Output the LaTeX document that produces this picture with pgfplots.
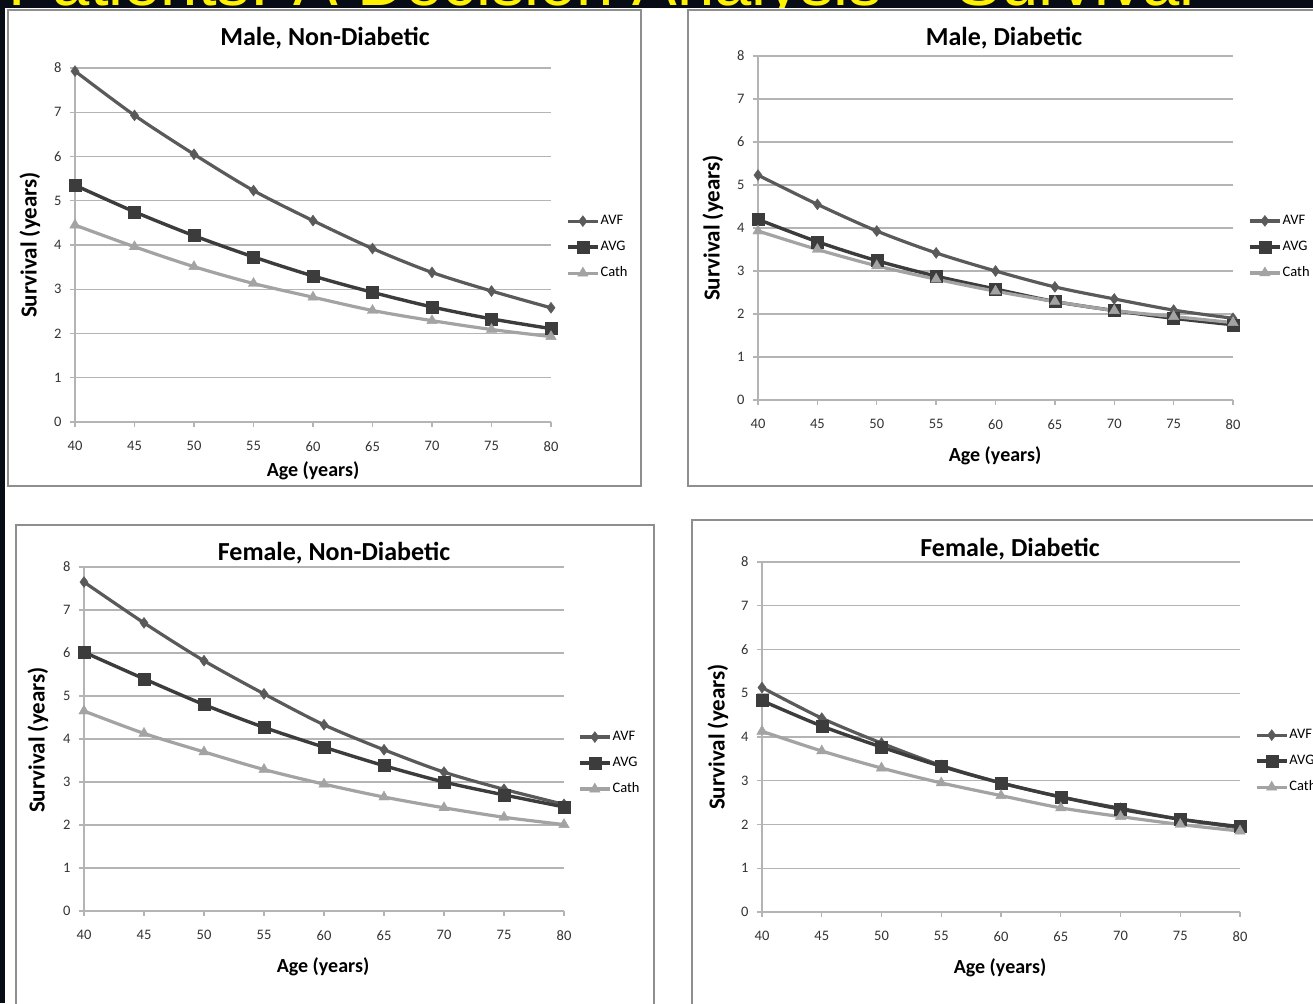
\documentclass[border=0pt]{standalone}
\usepackage{fontspec}
\setmainfont{Carlito}
\newfontfamily\slidefont{Liberation Sans}
\usepackage{pgfplots}
\usepackage{pgfplotstable}
\pgfplotsset{compat=1.18}

\definecolor{cAVF}{HTML}{5A5A5A}
\definecolor{cAVG}{HTML}{3C3C3C}
\definecolor{cCath}{HTML}{A3A3A3}
\definecolor{gridc}{HTML}{B4B4B4}
\definecolor{framec}{HTML}{8E8E8E}
\definecolor{ticklab}{HTML}{333333}
\definecolor{slidebg}{HTML}{080C16}

\pgfplotstableread{
age AVF AVG Cath
40 7.93 5.35 4.45
45 6.93 4.75 3.96
50 6.05 4.21 3.51
55 5.23 3.73 3.13
60 4.55 3.30 2.82
65 3.92 2.93 2.52
70 3.38 2.60 2.29
75 2.96 2.33 2.09
80 2.58 2.11 1.93
}\tA

\pgfplotstableread{
age AVF AVG Cath
40 5.23 4.20 3.93
45 4.55 3.68 3.50
50 3.93 3.24 3.12
55 3.42 2.88 2.81
60 3.00 2.58 2.53
65 2.63 2.29 2.29
70 2.35 2.08 2.08
75 2.09 1.90 1.94
80 1.90 1.75 1.80
}\tB

\pgfplotstableread{
age AVF AVG Cath
40 7.65 6.02 4.65
45 6.70 5.40 4.13
50 5.82 4.80 3.70
55 5.05 4.27 3.29
60 4.33 3.81 2.95
65 3.75 3.38 2.65
70 3.23 3.00 2.40
75 2.83 2.70 2.18
80 2.48 2.42 2.01
}\tC

\pgfplotstableread{
age AVF AVG Cath
40 5.13 4.83 4.13
45 4.43 4.25 3.68
50 3.86 3.77 3.29
55 3.35 3.33 2.95
60 2.95 2.95 2.66
65 2.63 2.63 2.38
70 2.37 2.35 2.18
75 2.12 2.12 2.00
80 1.92 1.95 1.85
}\tD

\pgfplotsset{
  panel/.style={
    scale only axis,
    xmin=40, xmax=80, ymin=0, ymax=8,
    xtick={40,45,...,80}, ytick={0,1,...,8},
    axis x line*=bottom, axis y line*=left,
    axis line style={-, gridc, line width=1.3pt},
    tick align=outside, major tick length=5pt,
    tick style={gridc, line width=1.3pt},
    ymajorgrids, major grid style={gridc, line width=1.3pt},
    tick label style={font=\fontsize{14.5}{16}\selectfont, text=ticklab},
    /pgf/number format/assume math mode=true,
    xticklabel style={yshift=-11pt},
    yticklabel style={xshift=-5pt},
    legend cell align=left,
    legend image code/.code={\draw[##1, mark repeat=2, mark phase=2] plot coordinates {(0pt,0pt) (15pt,0pt) (30pt,0pt)};},
    legend style={draw=none, fill=none, inner sep=0pt, font=\fontsize{14.5}{16}\selectfont, row sep=11pt, nodes={inner sep=1pt, text height=10pt, text depth=3pt}, anchor=west},
  },
  sAVF/.style={cAVF, line width=3.2pt, smooth, mark=diamond*, mark size=5.5pt, mark options={solid, fill=cAVF, line width=0.4pt}},
  sAVG/.style={cAVG, line width=3.4pt, smooth, mark=square*, mark size=6pt, mark options={solid, fill=cAVG, line width=0.4pt}},
  sCath/.style={cCath, line width=3.2pt, smooth, mark=triangle*, mark size=6pt, mark options={solid, fill=cCath, line width=0.4pt}},
}

\newcommand\ttl{\bfseries\fontsize{26}{30}\selectfont}
\newcommand\ylab{\bfseries\fontsize{23}{26}\selectfont}
\newcommand\xlab{\bfseries\fontsize{20}{24}\selectfont}

\begin{document}
\begin{tikzpicture}
\useasboundingbox (0,0) rectangle (1313pt,1003pt);
\clip (0,0) rectangle (1313pt,1003pt);
\fill[slidebg] (0,0) rectangle (1313pt,1003pt);
\node[anchor=base west, text=yellow, font=\slidefont\fontsize{67}{80}\selectfont, inner sep=0pt] at (8pt,997pt) {Patients: A Decision Analysis – Survival};
\fill[white] (5pt,0pt) rectangle (1320pt,995pt);

% panel frames
\draw[framec, line width=1.5pt] (8pt,993pt) rectangle (641pt,517pt);
\draw[framec, line width=1.5pt] (688pt,993pt) rectangle (1330pt,517pt);
\draw[framec, line width=1.5pt] (16pt,478pt) rectangle (654pt,-10pt);
\draw[framec, line width=1.5pt] (692pt,483pt) rectangle (1330pt,-10pt);

% Panel 1
\begin{axis}[panel, at={(75pt,581pt)}, anchor=south west, width=476pt, height=354pt,
  legend style={at={(1.0315,0.494)}}]
\addplot[sAVF] table[x=age,y=AVF]{\tA}; \addlegendentry{AVF}
\addplot[sAVG] table[x=age,y=AVG]{\tA}; \addlegendentry{AVG}
\addplot[sCath] table[x=age,y=Cath]{\tA}; \addlegendentry{Cath}
\end{axis}
\node[font=\ttl] at (325pt,965pt) {Male, Non-Diabetic};
\node[font=\ylab, rotate=90] at (30pt,758pt) {Survival (years)};
\node[font=\xlab] at (313pt,532pt) {Age (years)};

% Panel 2
\begin{axis}[panel, at={(758pt,603pt)}, anchor=south west, width=475pt, height=344pt,
  legend style={at={(1.0316,0.445)}}]
\addplot[sAVF] table[x=age,y=AVF]{\tB}; \addlegendentry{AVF}
\addplot[sAVG] table[x=age,y=AVG]{\tB}; \addlegendentry{AVG}
\addplot[sCath] table[x=age,y=Cath]{\tB}; \addlegendentry{Cath}
\end{axis}
\node[font=\ttl] at (1004pt,965pt) {Male, Diabetic};
\node[font=\ylab, rotate=90] at (713pt,775pt) {Survival (years)};
\node[font=\xlab] at (995pt,547pt) {Age (years)};

% Panel 3
\begin{axis}[panel, at={(84pt,92pt)}, anchor=south west, width=480pt, height=344pt,
  legend style={at={(1.029,0.43)}}]
\addplot[sAVF] table[x=age,y=AVF]{\tC}; \addlegendentry{AVF}
\addplot[sAVG] table[x=age,y=AVG]{\tC}; \addlegendentry{AVG}
\addplot[sCath] table[x=age,y=Cath]{\tC}; \addlegendentry{Cath}
\end{axis}
\node[font=\ttl] at (334pt,450pt) {Female, Non-Diabetic};
\node[font=\ylab, rotate=90] at (38pt,263pt) {Survival (years)};
\node[font=\xlab] at (323pt,36pt) {Age (years)};

% Panel 4
\begin{axis}[panel, at={(762pt,91pt)}, anchor=south west, width=478pt, height=350pt,
  legend style={at={(1.031,0.431)}}]
\addplot[sAVF] table[x=age,y=AVF]{\tD}; \addlegendentry{AVF}
\addplot[sAVG] table[x=age,y=AVG]{\tD}; \addlegendentry{AVG}
\addplot[sCath] table[x=age,y=Cath]{\tD}; \addlegendentry{Cath}
\end{axis}
\node[font=\ttl] at (1010pt,454pt) {Female, Diabetic};
\node[font=\ylab, rotate=90] at (718pt,266pt) {Survival (years)};
\node[font=\xlab] at (1000pt,35pt) {Age (years)};
\end{tikzpicture}
\end{document}
